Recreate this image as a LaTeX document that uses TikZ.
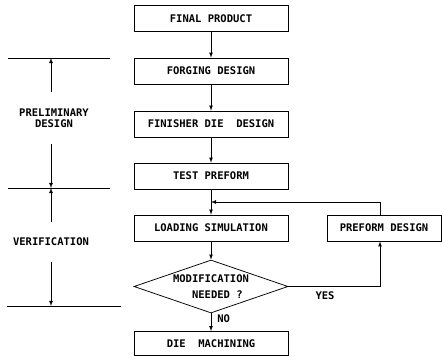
\documentclass[tikz,border=0pt]{standalone}
\usepackage{fontspec}
\setmonofont{DejaVu Sans Mono}
\usetikzlibrary{shapes.geometric}

\tikzset{
  stage/.style={draw, minimum width=154pt, minimum height=26pt, inner sep=0pt},
  decision/.style={draw, diamond, aspect=2.9, inner sep=0pt, minimum width=154pt, minimum height=53pt},
  phase/.style={inner sep=0pt, align=center, font=\ttfamily\bfseries\fontsize{10.5}{11}\selectfont},
}

\begin{document}
\begin{tikzpicture}[x=1pt,y=-1pt,>=latex,line width=0.75pt,font=\ttfamily\bfseries\fontsize{10.5}{15.5}\selectfont]
\useasboundingbox (0,0) rectangle (442,359);
% main column
\node[stage] (final) at (211,18.5) {FINAL PRODUCT};
\node[stage] (forging) at (211,71) {FORGING DESIGN};
\node[stage] (finisher) at (211,124) {FINISHER DIE\ \ DESIGN};
\node[stage] (test) at (211,176) {TEST PREFORM};
\node[stage] (loading) at (211,228) {LOADING SIMULATION};
\node[stage,minimum width=114pt] (preform) at (384,228) {PREFORM DESIGN};
\node[decision,align=left] (modif) at (211,286.5) {MODIFICATION\\\hspace*{19pt}NEEDED ?};
\node[stage,minimum height=24pt] (machining) at (211,343.5) {DIE\ \ MACHINING};
\draw[->] (final) -- (forging);
\draw[->] (forging) -- (finisher);
\draw[->] (finisher) -- (test);
\draw[->] (test) -- (loading);
\draw[->] (loading) -- (modif);
\draw[->] (modif) -- node[anchor=west,inner sep=0pt,xshift=6pt,yshift=4pt] {NO} (machining);
% loop back
\coordinate (turn) at (380,202);
\draw[->] (modif.east) -| node[pos=0.2,anchor=north,inner sep=0pt,yshift=-4.5pt] {YES} (preform.south -| turn);
\draw[->] (preform.north -| turn) -- (turn) -- (turn -| loading.north);
% phases
\coordinate (dim) at (51,0);
\coordinate (p1) at (51,58);
\coordinate (p2) at (51,188);
\coordinate (p3) at (51,306);
\draw (8,58) -- (110,58);
\draw (8,188) -- (110,188);
\draw (7,306) -- (121,306);
\node[phase,minimum height=52pt] (prelim) at (54,118) {PRELIMINARY\\DESIGN};
\node[phase,minimum height=40pt] (verif) at (51,242) {VERIFICATION};
\draw[->] (prelim.north -| dim) -- (p1);
\draw[->] (prelim.south -| dim) -- (p2);
\draw[->] (verif.north -| dim) -- (p2);
\draw[->] (verif.south -| dim) -- (p3);
\end{tikzpicture}
\end{document}
